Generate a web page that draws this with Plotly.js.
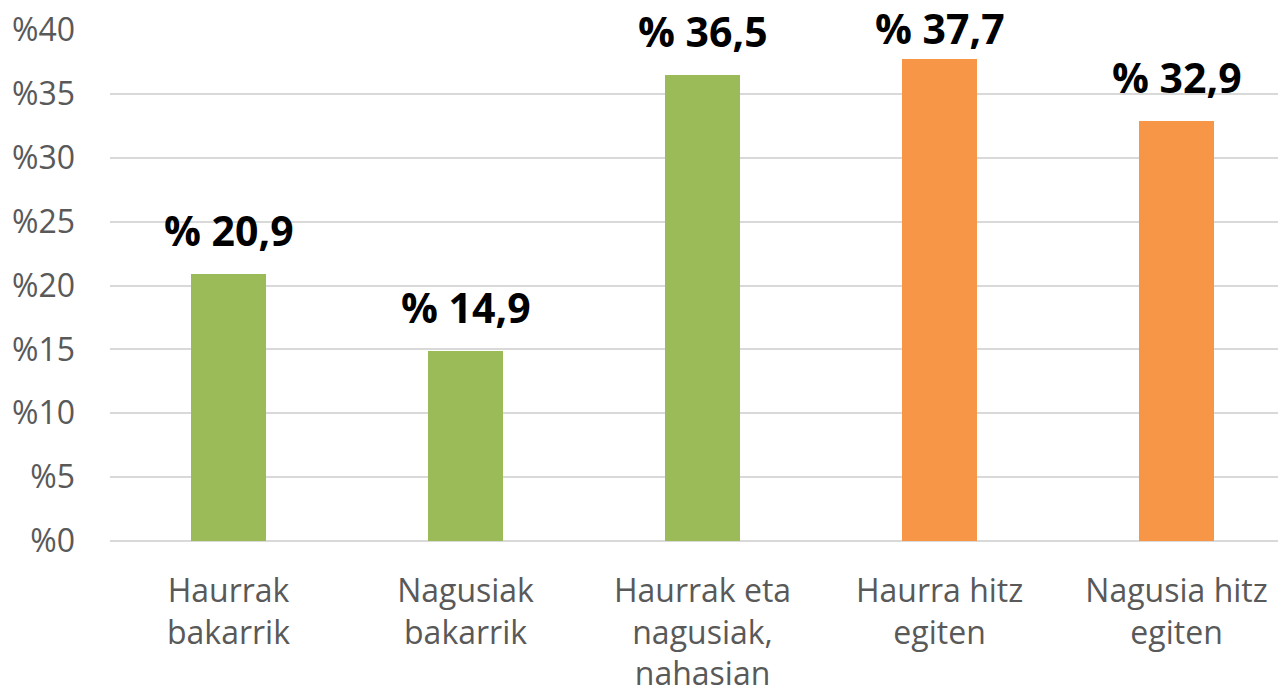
<!DOCTYPE html>
<html>
<head>
<meta charset="utf-8">
<script src="https://cdn.plot.ly/plotly-3.0.1.min.js"></script>
<style>html,body{margin:0;padding:0;background:#fff;}#chart{width:1278px;height:695px;}</style>
</head>
<body>
<div id="chart"></div>
<script>
const categories = ["Haurrak<br>bakarrik", "Nagusiak<br>bakarrik", "Haurrak eta<br>nagusiak,<br>nahasian", "Haurra hitz<br>egiten", "Nagusia hitz<br>egiten"];
const values = [20.9, 14.9, 36.5, 37.7, 32.9];
const barColors = ["#9BBB59", "#9BBB59", "#9BBB59", "#F79646", "#F79646"];
const yTickVals = [0, 5, 10, 15, 20, 25, 30, 35, 40];
const yTickText = ["%0", "%5", "%10", "%15", "%20", "%25", "%30", "%35", "%40"];
const labels = values.map(v => "% " + v.toFixed(1).replace(".", ","));

const H = 695, T = 30, B = 154;
const plotH = H - T - B;
const yMax = 40;

const trace = {
  type: "bar",
  x: categories,
  y: values,
  marker: {color: barColors},
  width: 0.317,
  hoverinfo: "skip"
};

// keep labels inside the chart: shift less if the label would reach the top edge
const annotations = categories.map((c, i) => {
  const barTopPx = T + (yMax - values[i]) / yMax * plotH;
  const wanted = 14;
  const labelH = 56;
  const shift = Math.max(0, Math.min(wanted, barTopPx - labelH - 2));
  return {
    x: c, y: values[i], xref: "x", yref: "y",
    text: "<b>" + labels[i] + "</b>",
    showarrow: false, yanchor: "bottom", yshift: shift,
    font: {family: "Open Sans", size: 41, color: "#000"}
  };
});

const layout = {
  width: 1278, height: H,
  margin: {l: 110, r: 0, t: T, b: B},
  paper_bgcolor: "#fff", plot_bgcolor: "#fff",
  showlegend: false,
  bargap: 0,
  xaxis: {
    type: "category",
    range: [-0.5, 4.428],
    showgrid: false, showline: false, zeroline: false,
    ticks: "",
    ticklabelstandoff: 28,
    tickfont: {family: "Open Sans", size: 32, color: "#595959"},
    fixedrange: true
  },
  yaxis: {
    range: [0, yMax],
    tickmode: "array",
    tickvals: yTickVals,
    ticktext: yTickText,
    showgrid: true, gridcolor: "#D9D9D9", gridwidth: 2,
    zeroline: true, zerolinecolor: "#D9D9D9", zerolinewidth: 2,
    showline: false, ticks: "",
    ticklabelstandoff: 34,
    tickfont: {family: "Open Sans", size: 32, color: "#595959"},
    fixedrange: true
  },
  annotations: annotations,
  font: {family: "Open Sans"}
};

Plotly.newPlot("chart", [trace], layout, {displayModeBar: false, staticPlot: true});
</script>
</body>
</html>
